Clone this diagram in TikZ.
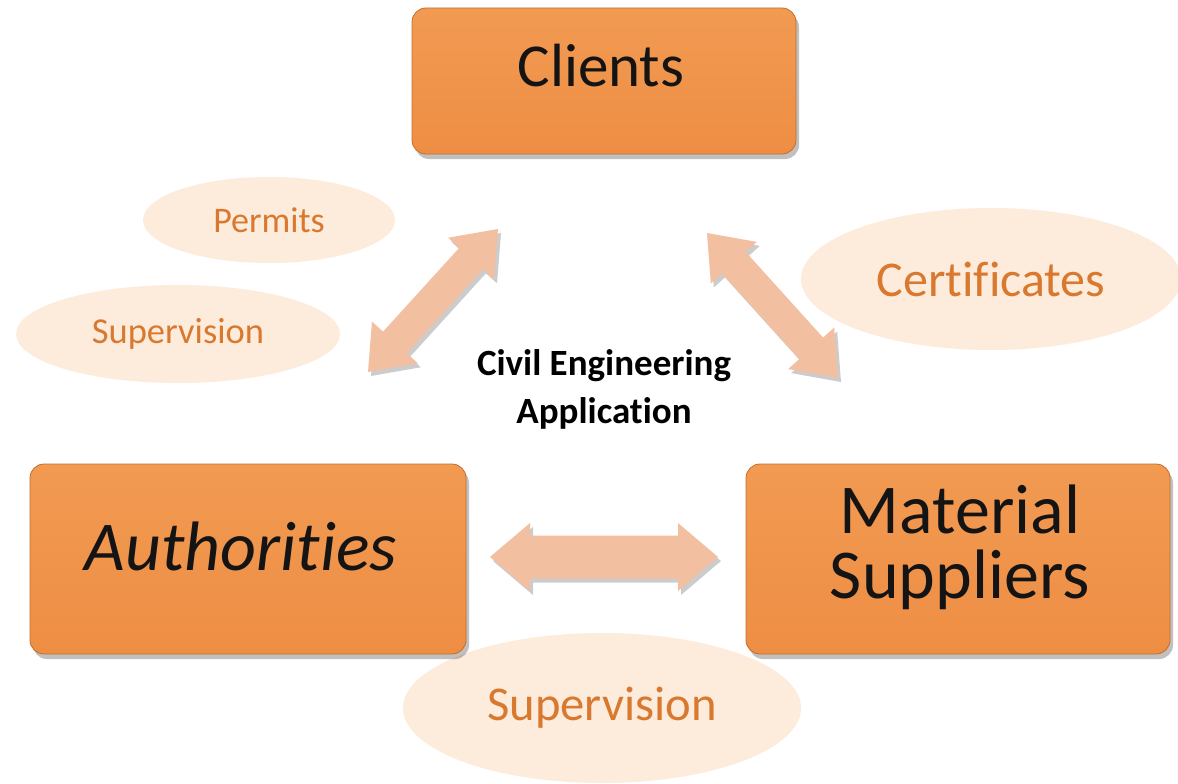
\documentclass[tikz,border=0pt]{standalone}
\usepackage{fontspec}
\setmainfont{Carlito}[Ligatures={NoCommon}]
\usetikzlibrary{shapes.geometric,shadows,calc}
\definecolor{boxtop}{HTML}{F29A52}
\definecolor{boxbot}{HTML}{EE8E44}
\definecolor{boxedge}{HTML}{C46E2A}
\definecolor{arrowpe}{HTML}{F3BFA1}
\definecolor{ellfill}{HTML}{FDEBDC}
\definecolor{elltext}{HTML}{D9792F}
\newcommand\fatarrow[6][]{%
  \path[#1] (#2)
   -- ($($(#2)!#4!(#3)$)!#5!90:(#3)$)
   -- ($($(#2)!#4!(#3)$)!#6!90:(#3)$)
   -- ($($(#3)!#4!(#2)$)!#6!-90:(#2)$)
   -- ($($(#3)!#4!(#2)$)!#5!-90:(#2)$)
   -- (#3)
   -- ($($(#3)!#4!(#2)$)!#5!90:(#2)$)
   -- ($($(#3)!#4!(#2)$)!#6!90:(#2)$)
   -- ($($(#2)!#4!(#3)$)!#6!-90:(#3)$)
   -- ($($(#2)!#4!(#3)$)!#5!-90:(#3)$)
   -- cycle;}
\begin{document}
\begin{tikzpicture}[x=1pt,y=-1pt,
  box/.style={rectangle, rounded corners=14pt, inner sep=0pt,
    top color=boxtop, bottom color=boxbot, draw=boxedge, line width=0.8pt,
    drop shadow={shadow xshift=3pt, shadow yshift=-5pt, opacity=0.35, fill=black!70}},
  boxtext/.style={anchor=base, text=black!92, inner sep=0pt},
  bubble/.style={ellipse, fill=ellfill, inner sep=0pt, text=elltext},
  fat/.style={fill=arrowpe},
  fatshadow/.style={fill=black, opacity=0.2, transform canvas={shift={(3pt,-4pt)}}}
]
\useasboundingbox (0,0) rectangle (1178,784);
\fill[white] (0,0) rectangle (1178,784);

% bubbles
\node[bubble, minimum width=252pt, minimum height=86pt, font=\fontsize{36}{40}\selectfont] (permits) at (269,220) {Permits};
\node[bubble, minimum width=324pt, minimum height=98pt, font=\fontsize{36.5}{40}\selectfont] (supl) at (178,334) {Supervision};
\node[bubble, minimum width=380pt, minimum height=142pt, font=\fontsize{50}{54}\selectfont] (cert) at (991,279) {Certificates};
\node[bubble, minimum width=398pt, minimum height=150pt, font=\fontsize{48.6}{54}\selectfont] (supb) at (602,708) {Supervision};

% boxes
\node[box, minimum width=384pt, minimum height=146pt] (clients) at (604,81) {};
\node[boxtext, font=\fontsize{61}{62}\selectfont] (clients-t) at (601,87) {Clients};
\node[box, minimum width=436pt, minimum height=190pt] (auth) at (248,559) {};
\node[boxtext, font=\itshape\fontsize{70}{72}\selectfont] (auth-t) at (241,570) {Authorities};
\node[box, minimum width=424pt, minimum height=190pt] (mat) at (958,559) {};
\node[boxtext, align=center, font=\fontsize{70}{65}\selectfont] (mat-t) at (960,598) {Material\\Suppliers};

% centre label
\node[anchor=base, align=center, font=\bfseries\fontsize{37}{48}\selectfont, inner sep=0pt] (cea) at (604,423) {Civil Engineering\\Application};

% arrows
\coordinate (a1) at (368,372); \coordinate (a2) at (498,229);
\coordinate (b1) at (707,233); \coordinate (b2) at (838,378);
\coordinate (c1) at (490,557); \coordinate (c2) at (718,557);
\fatarrow[fatshadow]{a1}{a2}{40pt}{31pt}{16pt}
\fatarrow[fat]{a1}{a2}{40pt}{31pt}{16pt}
\fatarrow[fatshadow]{b1}{b2}{40pt}{31pt}{16pt}
\fatarrow[fat]{b1}{b2}{40pt}{31pt}{16pt}
\fatarrow[fatshadow]{c1}{c2}{40pt}{34pt}{21.5pt}
\fatarrow[fat]{c1}{c2}{40pt}{34pt}{21.5pt}
\end{tikzpicture}
\end{document}
